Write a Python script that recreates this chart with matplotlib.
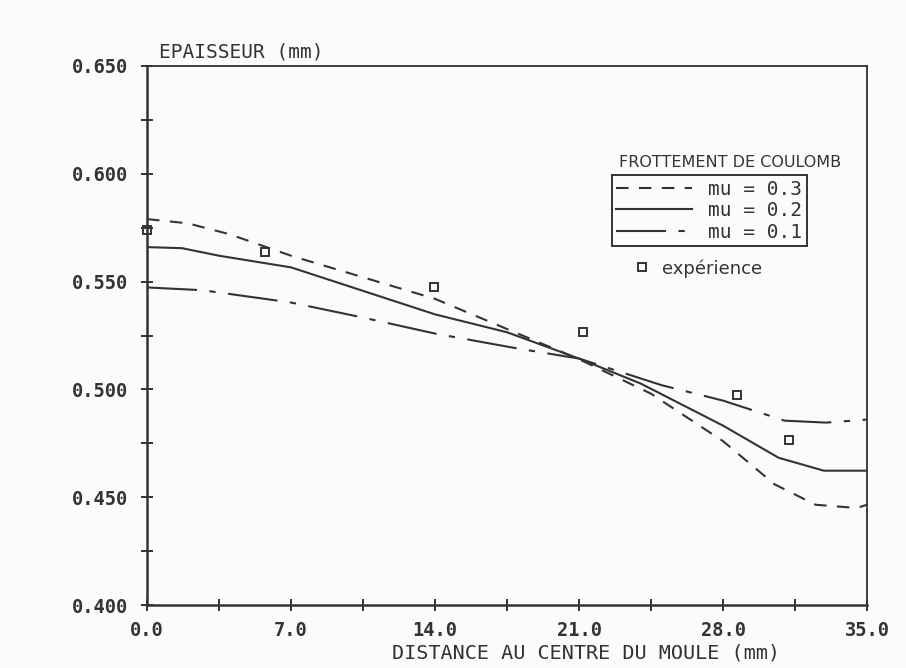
import numpy as np
import matplotlib
matplotlib.use("Agg")
import matplotlib.pyplot as plt
from matplotlib.lines import Line2D

# values
x_mu03 = [0.0, 2.0, 4.0, 7.0, 10.5, 14.0, 17.5, 21.0, 24.5, 28.0, 30.5, 32.5, 34.5, 35.0]
y_mu03 = [0.579, 0.577, 0.572, 0.562, 0.552, 0.542, 0.528, 0.514, 0.498, 0.476, 0.456, 0.4465, 0.445, 0.4465]

x_mu02 = [0.0, 1.7, 3.5, 7.0, 10.5, 14.0, 17.5, 21.0, 24.0, 28.0, 30.7, 32.9, 35.0]
y_mu02 = [0.566, 0.5655, 0.562, 0.5566, 0.5457, 0.5348, 0.5265, 0.5143, 0.5027, 0.4832, 0.4683, 0.4623, 0.4623]

x_mu01 = [0.0, 2.7, 7.0, 10.5, 14.0, 18.0, 21.0, 25.0, 28.0, 31.0, 33.0, 35.0]
y_mu01 = [0.5473, 0.546, 0.5403, 0.5333, 0.5259, 0.519, 0.5143, 0.502, 0.4948, 0.4855, 0.4846, 0.486]

x_exp = [0.0, 5.74, 13.95, 21.2, 28.7, 31.2]
y_exp = [0.574, 0.5636, 0.5473, 0.5264, 0.4976, 0.4767]

xticks = [0.0, 7.0, 14.0, 21.0, 28.0, 35.0]
yticks = [0.400, 0.450, 0.500, 0.550, 0.600, 0.650]

ink = "#333333"
bg = "#fbfbfb"
mono = "DejaVu Sans Mono"

fig = plt.figure(figsize=(9.06, 6.68), dpi=100, facecolor=bg)
ax = fig.add_axes([0.1623, 0.0943, 0.7947, 0.8069])
ax.set_facecolor(bg)

ax.plot(x_mu03, y_mu03, color=ink, lw=1.5, dashes=(6, 5), label="mu = 0.3")
ax.plot(x_mu02, y_mu02, color=ink, lw=1.5, label="mu = 0.2")
ax.plot(x_mu01, y_mu01, color=ink, lw=1.5, dashes=(24, 6, 3, 6), label="mu = 0.1")
ax.plot(x_exp, y_exp, ls="none", marker="s", ms=6, mfc="none", mec=ink, mew=1.4,
        clip_on=False)

ax.set_xlim(0, 35)
ax.set_ylim(0.40, 0.65)
ax.set_xticks(xticks)
ax.set_xticklabels(["%.1f" % v for v in xticks])
ax.set_yticks(yticks)
ax.set_yticklabels(["%.3f" % v for v in yticks])
ax.set_xticks(np.arange(0, 35.1, 3.5), minor=True)
ax.set_yticks(np.arange(0.40, 0.651, 0.025), minor=True)

ax.tick_params(which="both", direction="inout", length=9, width=1.4, color=ink,
               labelcolor=ink)
ax.tick_params(axis="y", pad=9)
ax.tick_params(axis="x", pad=7)
ax.tick_params(axis="x", which="both", top=False)
ax.tick_params(axis="y", which="both", right=False)
for lab in ax.get_xticklabels() + ax.get_yticklabels():
    lab.set_fontfamily(mono)
    lab.set_fontsize(13.5)
    lab.set_fontweight("bold")

for side in ["left", "bottom"]:
    ax.spines[side].set_linewidth(1.8)
    ax.spines[side].set_color(ink)
for side in ["top", "right"]:
    ax.spines[side].set_linewidth(1.3)
    ax.spines[side].set_color(ink)

# axis titles
fig.text(0.176, 0.922, "EPAISSEUR (mm)", family=mono, fontsize=14, color=ink,
         va="center", ha="left")
fig.text(0.647, 0.022, "DISTANCE AU CENTRE DU MOULE (mm)", family=mono, fontsize=14.5,
         color=ink, va="center", ha="center")

# legend
leg = ax.legend(loc="upper left", bbox_to_anchor=(0.675, 0.738), bbox_transform=fig.transFigure,
                frameon=True, fancybox=False, edgecolor=ink, facecolor=bg, framealpha=1,
                handlelength=3.9, handletextpad=0.8, borderpad=0.25, borderaxespad=0,
                labelspacing=0.12, prop={"family": mono, "size": 14})
leg.get_frame().set_linewidth(1.4)
for t in leg.get_texts():
    t.set_color(ink)
ax.add_artist(leg)

fig.text(0.806, 0.757, "FROTTEMENT DE COULOMB", family="DejaVu Sans", fontsize=11.5,
         color=ink, ha="center", va="center")

exp_handle = Line2D([], [], ls="none", marker="s", ms=6, mfc="none", mec=ink, mew=1.4)
leg2 = ax.legend([exp_handle], ["expérience"], loc="upper left",
                 bbox_to_anchor=(0.691, 0.623), bbox_transform=fig.transFigure,
                 frameon=False, handlelength=1.0, handletextpad=0.6, borderaxespad=0,
                 prop={"family": "DejaVu Sans", "size": 13})
for t in leg2.get_texts():
    t.set_color(ink)

fig.savefig("out.png", dpi=100, facecolor=bg)
